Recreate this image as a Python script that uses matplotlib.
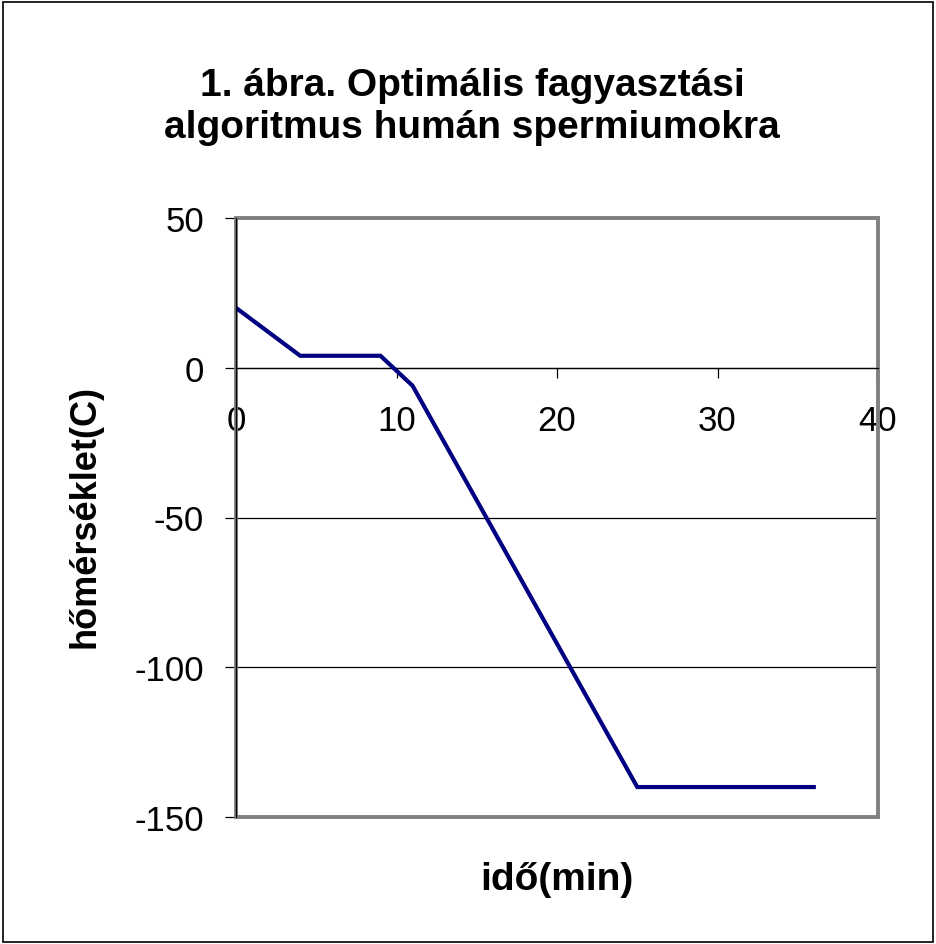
import matplotlib
matplotlib.use("Agg")
import matplotlib.pyplot as plt
from matplotlib.patches import Rectangle

# Daten
ido = [0, 4, 9, 11, 25, 36]
homerseklet = [20, 4, 4, -6, -140, -140]
x_ticks = [0, 10, 20, 30, 40]
y_ticks = [50, 0, -50, -100, -150]

title = "1. ábra. Optimális fagyasztási\nalgoritmus humán spermiumokra"
x_label = "idő(min)"
y_label = "hőmérséklet(C)"

plt.rcParams['font.family'] = ['Liberation Sans', 'DejaVu Sans']

fig = plt.figure(figsize=(9.36, 9.45), dpi=100)
ax = fig.add_axes([236 / 936, 1 - 818 / 945, 642 / 936, 599 / 945])

ax.plot(ido, homerseklet, color='#000080', lw=3, solid_joinstyle='miter', zorder=3)

ax.set_xlim(0, 40)
ax.set_ylim(-150, 50)

# Achsen im Excel-Stil
for s in ['top', 'right']:
    ax.spines[s].set_visible(False)
ax.spines['bottom'].set_position(('data', 0))
ax.spines['bottom'].set_color('black')
ax.spines['bottom'].set_linewidth(0.9)
ax.spines['left'].set_color('black')
ax.spines['left'].set_linewidth(0.9)
ax.spines['left'].set_zorder(4)

ax.set_xticks(x_ticks)
ax.set_yticks(y_ticks)
ax.set_xticklabels([str(t) for t in x_ticks])
ax.set_yticklabels([str(t) for t in y_ticks])
ax.tick_params(axis='x', direction='out', length=7, width=0.9, pad=19, labelsize=25)
ax.tick_params(axis='y', direction='out', length=8, width=0.9, pad=15, labelsize=25)

ax.yaxis.grid(True, color='black', lw=0.9)
ax.set_axisbelow(True)

# grauer Rahmen
ax.add_patch(Rectangle((0, 0), 1, 1, transform=ax.transAxes, fill=False,
                       edgecolor='#808080', lw=2.8, zorder=2, clip_on=False))

fig.text(472 / 936, 1 - 107 / 945, title, ha='center', va='center',
         fontsize=28, fontweight='bold', linespacing=1.18)
fig.text(557 / 936, 1 - 880 / 945, x_label, ha='center', va='center',
         fontsize=28, fontweight='bold')
fig.text(85 / 936, 1 - 517 / 945, y_label, ha='center', va='center',
         rotation=90, fontsize=26, fontweight='bold')

# äußerer Rahmen
fig.patches.append(Rectangle((3 / 936, 2 / 945), 930 / 936, 940 / 945,
                             transform=fig.transFigure, fill=False,
                             edgecolor='black', lw=1.2))

plt.savefig("out.png", dpi=100)
